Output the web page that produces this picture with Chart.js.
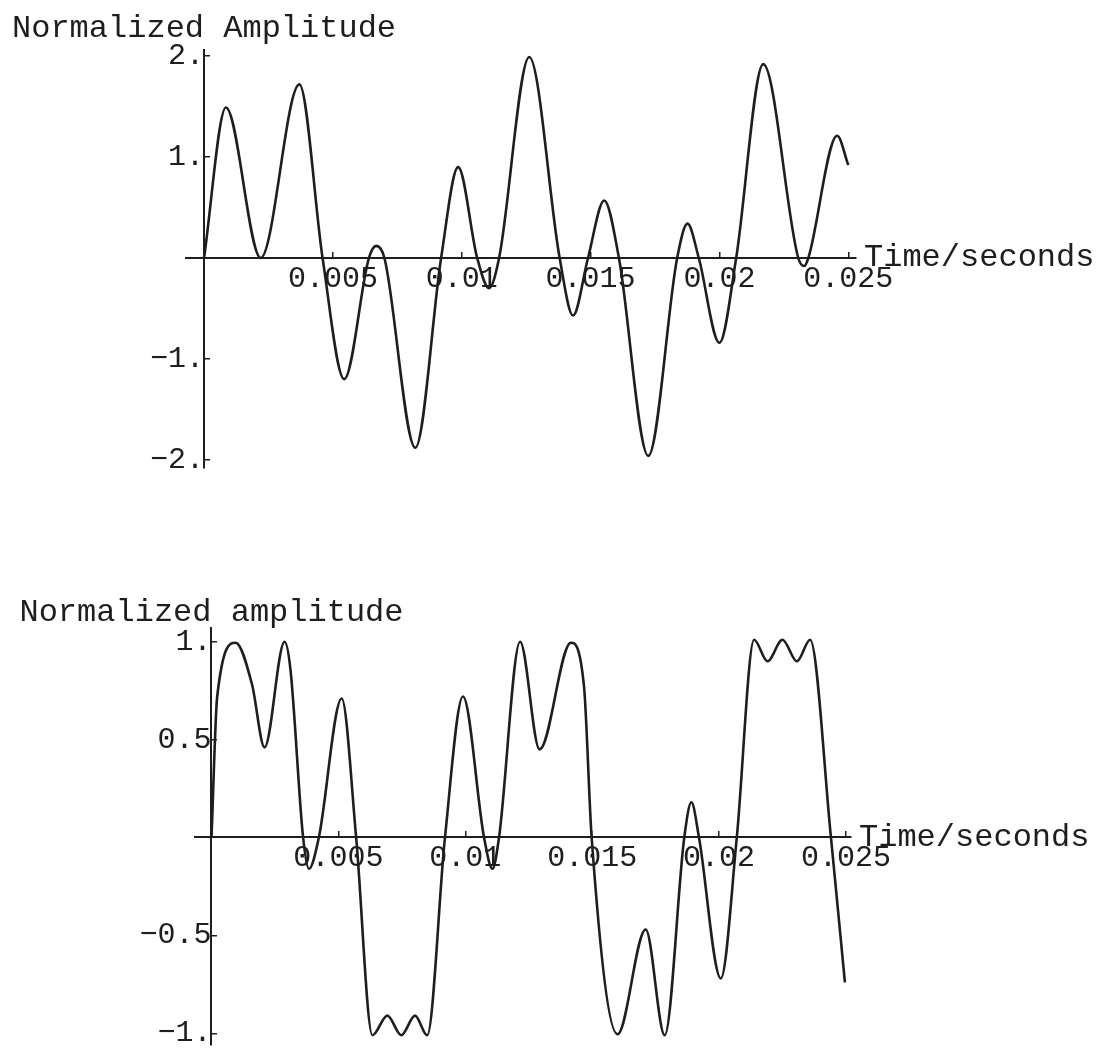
<!DOCTYPE html>
<html>
<head>
<meta charset="utf-8">
<script src="https://cdn.jsdelivr.net/npm/chart.js@4.4.1/dist/chart.umd.min.js"></script>
<style>
    html, body { margin: 0; padding: 0; background: #fff; overflow: hidden; }
    canvas { position: absolute; left: 0; }
    #top-plot { top: 0; }
    #bottom-plot { top: 560px; }
</style>
</head>
<body>
<canvas id="top-plot" width="1100" height="520"></canvas>
<canvas id="bottom-plot" width="1100" height="540"></canvas>
<script>
// ---- data (time in seconds) ----
const topTime = [0, 0.00085, 0.0022, 0.0037, 0.0046, 0.00544, 0.0064, 0.00668, 0.0070, 0.0082,
    0.0092, 0.00986, 0.0106, 0.01106, 0.01145, 0.01262, 0.0138, 0.01432, 0.0149, 0.01553,
    0.0161, 0.01724, 0.01836, 0.01876, 0.0192, 0.0200, 0.02065, 0.0217, 0.02306, 0.02329,
    0.02345, 0.02457, 0.025];
const topAmp = [0, 1.49, 0, 1.72, 0, -1.20, 0, 0.12, 0, -1.88,
    0, 0.90, 0, -0.30, 0, 1.99, 0, -0.57, 0, 0.57,
    0, -1.96, 0, 0.34, 0, -0.84, 0, 1.92, 0, -0.08,
    0, 1.21, 0.92];

const bottomTime = [0, 0.000225, 0.00095, 0.0016, 0.00209, 0.00288, 0.00311, 0.00361, 0.00384, 0.00423,
    0.00513, 0.0057, 0.00634, 0.00693, 0.00748, 0.00802, 0.0085, 0.0092, 0.00991, 0.01074,
    0.01107, 0.01133, 0.01216, 0.01293, 0.01416, 0.01468, 0.01498, 0.016, 0.01711, 0.01786,
    0.01863, 0.01891, 0.01921, 0.02007, 0.0207, 0.02138, 0.02191, 0.0225, 0.02307, 0.02359,
    0.02441, 0.02496];
const bottomAmp = [0, 0.72, 0.995, 0.78, 0.46, 1.0, 0.86, 0, -0.16, 0,
    0.71, 0, -1.01, -0.91, -1.01, -0.91, -1.01, 0, 0.72, 0,
    -0.16, 0, 1.0, 0.45, 0.995, 0.77, 0, -1.005, -0.47, -1.01,
    0, 0.18, 0, -0.72, 0, 1.01, 0.90, 1.01, 0.90, 1.01,
    0, -0.74];

const timeTicks = [0.005, 0.01, 0.015, 0.02, 0.025];
const timeTickLabels = ['0.005', '0.01', '0.015', '0.02', '0.025'];
const topAmpTicks = [-2, -1, 1, 2];
const topAmpTickLabels = ['\u22122.', '\u22121.', '1.', '2.'];
const bottomAmpTicks = [-1, -0.5, 0.5, 1];
const bottomAmpTickLabels = ['\u22121.', '\u22120.5', '0.5', '1.'];

const ink = '#1e1e1e';
const monoFont = '"Liberation Mono", "Courier New", monospace';

// axis labels at the ends of the axes, like the original plot
const axisTitlePlugin = {
    id: 'axisTitles',
    afterDraw(chart, args, opts) {
        const ctx = chart.ctx;
        const x0 = chart.scales.x.getPixelForValue(0);
        const y0 = chart.scales.y.getPixelForValue(0);
        ctx.save();
        ctx.fillStyle = ink;
        ctx.font = `${opts.size}px ${monoFont}`;
        ctx.textAlign = 'center';
        ctx.textBaseline = 'alphabetic';
        ctx.fillText(opts.yTitle, x0, chart.chartArea.top - opts.yGap);
        ctx.textAlign = 'left';
        ctx.textBaseline = 'middle';
        ctx.fillText(opts.xTitle, chart.chartArea.right + opts.xGap, y0);
        ctx.restore();
    }
};

const makePlot = (canvasId, times, amps, opts) => {
    const ctx = document.getElementById(canvasId).getContext('2d');
    const points = times.map((t, i) => ({ x: t, y: amps[i] }));

    const axisStyle = (tickValues, tickLabels, fontSize, padding) => ({
        afterBuildTicks: (scale) => {
            scale.ticks = tickValues.map(v => ({ value: v }));
        },
        ticks: {
            autoSkip: false,
            maxRotation: 0,
            padding: padding,
            color: ink,
            font: { family: monoFont, size: fontSize },
            callback: (value) => {
                const i = tickValues.indexOf(value);
                return i >= 0 ? tickLabels[i] : '';
            }
        },
        grid: {
            drawOnChartArea: false,
            drawTicks: true,
            tickLength: -7, // ticks point into the plot
            color: ink,
            lineWidth: 1.5
        },
        border: { color: ink, width: 2 }
    });

    return new Chart(ctx, {
        type: 'line',
        data: {
            datasets: [{
                data: points,
                borderColor: ink,
                borderWidth: 2.6,
                pointRadius: 0,
                fill: false,
                cubicInterpolationMode: 'monotone'
            }]
        },
        options: {
            responsive: false,
            animation: false,
            layout: { padding: opts.padding },
            plugins: {
                legend: { display: false },
                tooltip: { enabled: false },
                axisTitles: {
                    yTitle: opts.yTitle,
                    xTitle: 'Time/seconds',
                    size: 32,
                    yGap: opts.yGap,
                    xGap: 8
                }
            },
            scales: {
                x: Object.assign({
                    type: 'linear',
                    min: opts.xMin,
                    max: opts.xMax,
                    position: { y: 0 }
                }, axisStyle(timeTicks, timeTickLabels, 30, 10)),
                y: Object.assign({
                    type: 'linear',
                    min: opts.yMin,
                    max: opts.yMax,
                    position: { x: 0 }
                }, axisStyle(opts.yTicks, opts.yTickLabels, 30, 3))
            }
        },
        plugins: [axisTitlePlugin]
    });
};

makePlot('top-plot', topTime, topAmp, {
    padding: { left: 186, right: 244, top: 50, bottom: 52 },
    xMin: -0.0007,
    xMax: 0.0253,
    yMin: -2.08,
    yMax: 2.06,
    yTicks: topAmpTicks,
    yTickLabels: topAmpTickLabels,
    yTitle: 'Normalized Amplitude',
    yGap: 13
});

makePlot('bottom-plot', bottomTime, bottomAmp, {
    padding: { left: 195, right: 249, top: 68, bottom: 55 },
    xMin: -0.00065,
    xMax: 0.0252,
    yMin: -1.06,
    yMax: 1.07,
    yTicks: bottomAmpTicks,
    yTickLabels: bottomAmpTickLabels,
    yTitle: 'Normalized amplitude',
    yGap: 7
});
</script>
</body>
</html>
